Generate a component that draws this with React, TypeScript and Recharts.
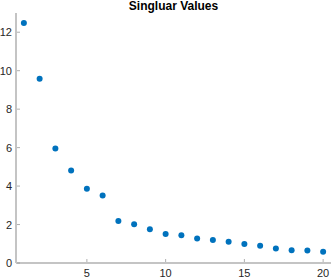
import React from "react";
import { ScatterChart, Scatter, XAxis, YAxis } from "recharts";

const indices = [1, 2, 3, 4, 5, 6, 7, 8, 9, 10, 11, 12, 13, 14, 15, 16, 17, 18, 19, 20];
const singularValues = [12.48, 9.58, 5.96, 4.81, 3.86, 3.51, 2.19, 2.01, 1.75, 1.51, 1.44, 1.27, 1.2, 1.1, 0.99, 0.9, 0.76, 0.66, 0.65, 0.59];
const xTicks = [5, 10, 15, 20];
const yTicks = [0, 2, 4, 6, 8, 10, 12];
const title = "Singluar Values";

const data = indices.map((k, i) => ({ k, s: singularValues[i] }));

const FONT = "'Liberation Sans', Arial, Helvetica, sans-serif";
const AXIS = "#c4c4c4";
const TICK = "#9a9a9a";
const TXT = "#262626";

const XTick = (props: any) => {
  const { x, y, payload } = props;
  return (
    <g>
      <line x1={x} x2={x} y1={y - 4} y2={y - 1} stroke={TICK} strokeWidth={0.8} />
      <text x={x} y={y + 14} textAnchor="middle" fontSize={11} fill={TXT} fontFamily={FONT}>
        {payload.value}
      </text>
    </g>
  );
};

const YTick = (props: any) => {
  const { x, y, payload } = props;
  return (
    <g>
      <line x1={x + 1} x2={x + 4} y1={y} y2={y} stroke={TICK} strokeWidth={0.8} />
      <text x={x - 4} y={y + 4} textAnchor="end" fontSize={11} fill={TXT} fontFamily={FONT}>
        {payload.value}
      </text>
    </g>
  );
};

export default function App() {
  return (
    <div style={{ position: "absolute", left: 0, top: 0, width: 332, height: 279, background: "#fff" }}>
      <div
        style={{
          position: "absolute",
          left: 16,
          width: 315,
          top: -1,
          textAlign: "center",
          fontFamily: FONT,
          fontWeight: "bold",
          fontSize: 12,
          color: "#000",
        }}
      >
        {title}
      </div>
      <ScatterChart width={332} height={279} margin={{ top: 13, right: 1, left: 0, bottom: 0 }}>
        <XAxis
          type="number"
          dataKey="k"
          domain={[0.5, 20.5]}
          ticks={xTicks}
          height={16}
          axisLine={{ stroke: AXIS, strokeWidth: 2 }}
          tickLine={false}
          tickSize={0}
          tickMargin={0}
          tick={<XTick />}
          interval={0}
        />
        <YAxis
          type="number"
          dataKey="s"
          domain={[0, 13]}
          ticks={yTicks}
          width={16}
          axisLine={{ stroke: AXIS, strokeWidth: 2 }}
          tickLine={false}
          tickSize={0}
          tickMargin={0}
          tick={<YTick />}
          interval={0}
        />
        <Scatter
          data={data}
          fill="#0072BD"
          isAnimationActive={false}
          shape={(p: any) => <circle cx={p.cx} cy={p.cy} r={3} fill="#0072BD" />}
        />
      </ScatterChart>
    </div>
  );
}
